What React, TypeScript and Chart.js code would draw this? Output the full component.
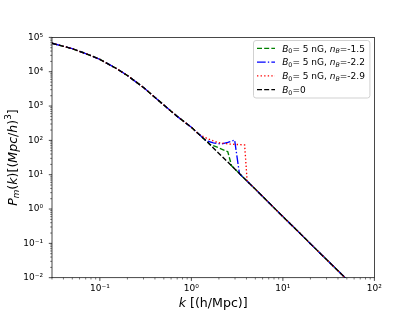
import React, { useEffect, useRef } from 'react';
import { Chart, registerables } from 'chart.js';
Chart.register(...registerables);

// ---------- data (k in h/Mpc, P in (Mpc/h)^3) ----------
const blackK = [0.03, 0.04, 0.05, 0.07, 0.1, 0.15, 0.2, 0.3, 0.5, 0.7, 1, 1.5, 2, 2.5, 3, 4, 5, 7, 10, 15, 20, 30, 50, 60];
const blackP = [67600, 55000, 46800, 33900, 22900, 12600, 7760, 3470, 1070, 501, 240, 89.1, 41.7, 23.4, 14.5, 6.76, 3.8, 1.55, 0.603, 0.209, 0.0977, 0.0339, 0.00891, 0.0055];

const greenK = [0.03, 0.04, 0.05, 0.07, 0.1, 0.15, 0.2, 0.3, 0.5, 0.7, 1, 1.5, 1.58, 2, 2.5, 2.75, 3, 4, 5, 7, 10, 15, 20, 30, 50, 60];
const greenP = [67600, 55000, 46800, 33900, 22900, 12600, 7760, 3470, 1070, 501, 240, 89.1, 77.6, 60.3, 46.8, 18.2, 14.5, 6.76, 3.8, 1.55, 0.603, 0.209, 0.0977, 0.0339, 0.00891, 0.0055];

const blueK = [0.03, 0.04, 0.05, 0.07, 0.1, 0.15, 0.2, 0.3, 0.5, 0.7, 1, 1.45, 1.74, 2.12, 2.5, 2.97, 3.35, 4, 5, 7, 10, 15, 20, 30, 50, 60];
const blueP = [67600, 55000, 46800, 33900, 22900, 12600, 7760, 3470, 1070, 501, 240, 97.7, 85, 78.5, 87, 102, 10.7, 6.76, 3.8, 1.55, 0.603, 0.209, 0.0977, 0.0339, 0.00891, 0.0055];

const redK = [0.03, 0.04, 0.05, 0.07, 0.1, 0.15, 0.2, 0.3, 0.5, 0.7, 1, 1.22, 1.5, 1.95, 2.62, 3.82, 4.07, 5, 7, 10, 15, 20, 30, 50, 60];
const redP = [67600, 55000, 46800, 33900, 22900, 12600, 7760, 3470, 1070, 501, 240, 148, 112, 85.7, 78.5, 73.5, 6.5, 3.8, 1.55, 0.603, 0.209, 0.0977, 0.0339, 0.00891, 0.0055];

const xTickValues = [0.1, 1, 10, 100];
const xTickLabels = ['10⁻¹', '10⁰', '10¹', '10²'];
const yTickValues = [1e-2, 1e-1, 1, 10, 100, 1e3, 1e4, 1e5];
const yTickLabels = ['10⁻²', '10⁻¹', '10⁰', '10¹', '10²', '10³', '10⁴', '10⁵'];

const nBValues = ['-1.5', '-2.2', '-2.9'];
const B0Value = '5 nG';

const FONT = "'DejaVu Sans', sans-serif";

type Seg = { t: string; it?: boolean; sub?: boolean; sup?: boolean };

function drawMath(ctx: CanvasRenderingContext2D, segs: Seg[], x: number, y: number, size: number, align: 'left' | 'center') {
  let total = 0;
  const ws = segs.map((s) => {
    const fs = s.sub || s.sup ? size * 0.7 : size;
    ctx.font = `${s.it ? 'italic ' : ''}${fs}px ${FONT}`;
    const w = ctx.measureText(s.t).width;
    total += w;
    return w;
  });
  let cx = align === 'center' ? x - total / 2 : x;
  ctx.textAlign = 'left';
  ctx.textBaseline = 'alphabetic';
  segs.forEach((s, i) => {
    const fs = s.sub || s.sup ? size * 0.7 : size;
    ctx.font = `${s.it ? 'italic ' : ''}${fs}px ${FONT}`;
    const dy = s.sub ? size * 0.2 : s.sup ? -size * 0.42 : 0;
    ctx.fillText(s.t, cx, y + dy);
    cx += ws[i];
  });
}

const DASHED = [5.0, 2.17];
const DASHDOT = [8.67, 2.17, 1.35, 2.17];
const DOTTED = [1.35, 2.23];
const LW = 1.35;

function minorTicks(lo: number, hi: number): number[] {
  const out: number[] = [];
  for (let e = Math.floor(Math.log10(lo)) ; e < Math.ceil(Math.log10(hi)); e++) {
    for (let m = 1; m <= 9; m++) {
      const v = m * Math.pow(10, e);
      if (v >= lo * 0.9999 && v <= hi * 1.0001) out.push(v);
    }
  }
  out.push(hi);
  return out;
}

function labelFor(v: number, vals: number[], labels: string[]) {
  for (let i = 0; i < vals.length; i++) {
    if (Math.abs(Math.log10(v) - Math.log10(vals[i])) < 1e-6) return labels[i];
  }
  return '';
}
function isMajor(v: number, vals: number[]) {
  return vals.some((t) => Math.abs(Math.log10(v) - Math.log10(t)) < 1e-6);
}

const decorPlugin = {
  id: 'decor',
  afterDraw(chart: any) {
    const ctx: CanvasRenderingContext2D = chart.ctx;
    const a = chart.chartArea;
    const xs = chart.scales.x;
    const ys = chart.scales.y;
    ctx.save();
    ctx.strokeStyle = '#000';
    ctx.fillStyle = '#000';
    // frame
    ctx.lineWidth = 0.72;
    ctx.strokeRect(a.left, a.top, a.right - a.left, a.bottom - a.top);
    // ticks
    xs.ticks.forEach((t: any) => {
      const major = isMajor(t.value, xTickValues);
      const px = xs.getPixelForValue(t.value);
      ctx.lineWidth = major ? 0.72 : 0.54;
      ctx.beginPath();
      ctx.moveTo(px, a.bottom);
      ctx.lineTo(px, a.bottom + (major ? 3.2 : 1.8));
      ctx.stroke();
    });
    ys.ticks.forEach((t: any) => {
      const major = isMajor(t.value, yTickValues);
      const py = ys.getPixelForValue(t.value);
      ctx.lineWidth = major ? 0.72 : 0.54;
      ctx.beginPath();
      ctx.moveTo(a.left, py);
      ctx.lineTo(a.left - (major ? 3.2 : 1.8), py);
      ctx.stroke();
    });
    // x title
    drawMath(ctx, [{ t: 'k', it: true }, { t: ' [(h/Mpc)]' }], (a.left + a.right) / 2, 306.5, 12.6, 'center');
    // y title
    ctx.save();
    ctx.translate(16.5, (a.top + a.bottom) / 2);
    ctx.rotate(-Math.PI / 2);
    drawMath(
      ctx,
      [
        { t: 'P', it: true },
        { t: 'm', it: true, sub: true },
        { t: '(' },
        { t: 'k', it: true },
        { t: ')[(' },
        { t: 'Mpc', it: true },
        { t: '/' },
        { t: 'h', it: true },
        { t: ')' },
        { t: '3', sup: true },
        { t: ']' },
      ],
      0,
      0,
      12.6,
      'center'
    );
    ctx.restore();

    // legend
    const lx = 253.5, ly = 40.5, lw = 116.4, lh = 57.5, r = 2.5;
    ctx.beginPath();
    ctx.moveTo(lx + r, ly);
    ctx.lineTo(lx + lw - r, ly);
    ctx.quadraticCurveTo(lx + lw, ly, lx + lw, ly + r);
    ctx.lineTo(lx + lw, ly + lh - r);
    ctx.quadraticCurveTo(lx + lw, ly + lh, lx + lw - r, ly + lh);
    ctx.lineTo(lx + r, ly + lh);
    ctx.quadraticCurveTo(lx, ly + lh, lx, ly + lh - r);
    ctx.lineTo(lx, ly + r);
    ctx.quadraticCurveTo(lx, ly, lx + r, ly);
    ctx.closePath();
    ctx.fillStyle = 'rgba(255,255,255,0.8)';
    ctx.fill();
    ctx.strokeStyle = '#cccccc';
    ctx.lineWidth = 0.9;
    ctx.stroke();

    const entries = [
      { color: '#008000', dash: DASHED, segs: [{ t: 'B', it: true }, { t: '0', sub: true }, { t: '= ' + B0Value + ', ' }, { t: 'n', it: true }, { t: 'B', it: true, sub: true }, { t: '=' + nBValues[0] }] },
      { color: '#0000ff', dash: DASHDOT, segs: [{ t: 'B', it: true }, { t: '0', sub: true }, { t: '= ' + B0Value + ', ' }, { t: 'n', it: true }, { t: 'B', it: true, sub: true }, { t: '=' + nBValues[1] }] },
      { color: '#ff0000', dash: DOTTED, segs: [{ t: 'B', it: true }, { t: '0', sub: true }, { t: '= ' + B0Value + ', ' }, { t: 'n', it: true }, { t: 'B', it: true, sub: true }, { t: '=' + nBValues[2] }] },
      { color: '#000000', dash: DASHED, segs: [{ t: 'B', it: true }, { t: '0', sub: true }, { t: '=0' }] },
    ];
    entries.forEach((e, i) => {
      const cy = 48.3 + i * 13.75;
      ctx.strokeStyle = e.color;
      ctx.lineWidth = LW;
      ctx.setLineDash(e.dash);
      ctx.beginPath();
      ctx.moveTo(257, cy);
      ctx.lineTo(275, cy);
      ctx.stroke();
      ctx.setLineDash([]);
      ctx.fillStyle = '#000';
      drawMath(ctx, e.segs as Seg[], 282.2, cy + 3.3, 9, 'left');
    });
    ctx.restore();
  },
};

function pts(k: number[], p: number[]) {
  return k.map((kv, i) => ({ x: kv, y: p[i] }));
}

export default function App() {
  const ref = useRef<HTMLCanvasElement>(null);
  useEffect(() => {
    const chart = new Chart(ref.current!, {
      type: 'line',
      data: {
        datasets: [
          { label: 'B0= 5 nG, nB=-1.5', data: pts(greenK, greenP), borderColor: '#008000', borderDash: DASHED, borderWidth: LW, pointRadius: 0, order: 3, tension: 0 },
          { label: 'B0= 5 nG, nB=-2.2', data: pts(blueK, blueP), borderColor: '#0000ff', borderDash: DASHDOT, borderWidth: LW, pointRadius: 0, order: 2, tension: 0 },
          { label: 'B0= 5 nG, nB=-2.9', data: pts(redK, redP), borderColor: '#ff0000', borderDash: DOTTED, borderWidth: LW, pointRadius: 0, order: 1, tension: 0 },
          { label: 'B0=0', data: pts(blackK, blackP), borderColor: '#000000', borderDash: DASHED, borderWidth: LW, pointRadius: 0, order: 0, tension: 0 },
        ],
      },
      options: {
        animation: false,
        responsive: false,
        devicePixelRatio: 1,
        parsing: false as any,
        layout: { padding: { left: 0, right: 40.6, top: 37.4, bottom: 0 } },
        plugins: { legend: { display: false }, tooltip: { enabled: false }, title: { display: false } },
        scales: {
          x: {
            type: 'logarithmic',
            min: 0.03,
            max: 100,
            grid: { display: false, drawTicks: false },
            border: { display: false },
            afterBuildTicks: (s: any) => {
              s.ticks = minorTicks(0.03, 100).map((v) => ({ value: v, major: isMajor(v, xTickValues) }));
            },
            afterFit: (s: any) => {
              s.height = 311 - 277.7;
            },
            ticks: {
              autoSkip: false,
              maxRotation: 0,
              minRotation: 0,
              padding: 6,
              color: '#000',
              font: { family: 'DejaVu Sans', size: 9 },
              callback: (v: any) => labelFor(Number(v), xTickValues, xTickLabels),
            },
          },
          y: {
            type: 'logarithmic',
            min: 0.01,
            max: 1e5,
            grid: { display: false, drawTicks: false },
            border: { display: false },
            afterBuildTicks: (s: any) => {
              s.ticks = minorTicks(0.01, 1e5).map((v) => ({ value: v, major: isMajor(v, yTickValues) }));
            },
            afterFit: (s: any) => {
              s.width = 52;
            },
            ticks: {
              autoSkip: false,
              padding: 9,
              color: '#000',
              font: { family: 'DejaVu Sans', size: 9 },
              callback: (v: any) => labelFor(Number(v), yTickValues, yTickLabels),
            },
          },
        },
      },
      plugins: [decorPlugin],
    } as any);
    return () => chart.destroy();
  }, []);
  return (
    <div style={{ position: 'fixed', left: 0, top: 0, width: 415, height: 311, background: '#fff' }}>
      <canvas ref={ref} width={415} height={311} style={{ display: 'block', width: 415, height: 311 }} />
    </div>
  );
}
